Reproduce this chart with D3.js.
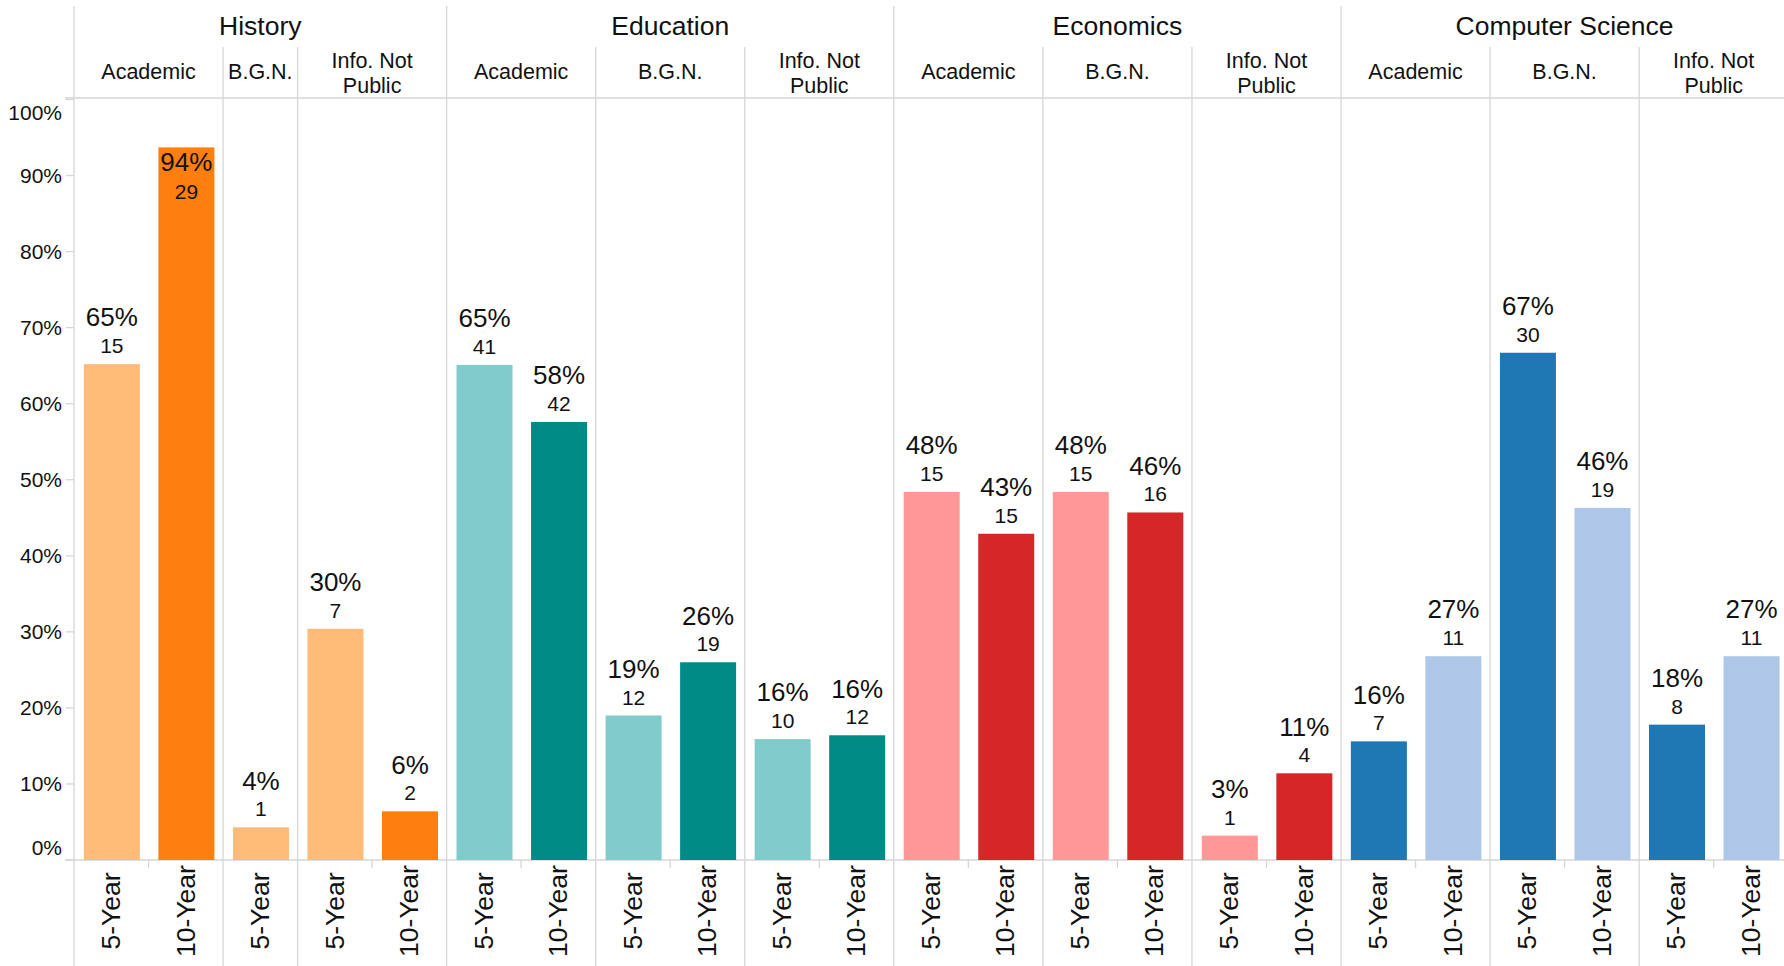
<!DOCTYPE html>
<html>
<head>
<meta charset="utf-8">
<script src="https://cdn.jsdelivr.net/npm/d3@7"></script>
<style>
  html, body { margin: 0; padding: 0; background: #fff; }
  svg { display: block; font-family: "Liberation Sans", Arial, sans-serif; }
</style>
</head>
<body>
<svg id="chart" width="1784" height="966"></svg>
<script>
// ---------------- DATA ----------------
const categories = ["History", "Education", "Economics", "Computer Science"];
const subgroups = ["Academic", "B.G.N.", "Info. Not Public"];
const years = ["5-Year", "10-Year"];
const yTicks = [0, 0.1, 0.2, 0.3, 0.4, 0.5, 0.6, 0.7, 0.8, 0.9, 1.0];

// percentages per subgroup: [5-Year, 10-Year] (History B.G.N. only has 5-Year)
const pctHistory   = [[65.2, 93.7], [4.3], [30.4, 6.4]];
const pctEducation = [[65.1, 57.6], [19.0, 26.0], [15.9, 16.4]];
const pctEconomics = [[48.4, 42.9], [48.4, 45.7], [3.2, 11.4]];
const pctCompSci   = [[15.6, 26.8], [66.7, 46.3], [17.8, 26.8]];

const cntHistory   = [[15, 29], [1], [7, 2]];
const cntEducation = [[41, 42], [12, 19], [10, 12]];
const cntEconomics = [[15, 15], [15, 16], [1, 4]];
const cntCompSci   = [[7, 11], [30, 19], [8, 11]];

const colorHistory   = ["#ffbb78", "#ff7f0e"];
const colorEducation = ["#82cbcc", "#008b87"];
const colorEconomics = ["#ff9896", "#d62728"];
const colorCompSci   = ["#1f77b4", "#aec7e8"];

const pctByCat = [pctHistory, pctEducation, pctEconomics, pctCompSci];
const cntByCat = [cntHistory, cntEducation, cntEconomics, cntCompSci];
const colByCat = [colorHistory, colorEducation, colorEconomics, colorCompSci];

// ---------------- BUILD ----------------
const bars = [];
categories.forEach((cat, ci) => {
  subgroups.forEach((sub, si) => {
    pctByCat[ci][si].forEach((p, yi) => {
      bars.push({
        cat, sub, year: years[yi],
        key: cat + "|" + sub + "|" + years[yi],
        pct: p / 100, pctLabel: Math.round(p) + "%", count: cntByCat[ci][si][yi],
        color: colByCat[ci][yi]
      });
    });
  });
});

const W = 1784, H = 966;
const left = 74, slotW = 74.53;
const right = left + bars.length * slotW;
const gridColor = "#d6d6d6";
const textColor = "#111";

const x = d3.scaleBand().domain(bars.map(d => d.key)).range([left, right]).padding(0);
const y = d3.scaleLinear().domain([0, 1]).range([860, 99.5]);

const svg = d3.select("#chart");

function span(filterFn) {
  const ks = bars.filter(filterFn).map(d => d.key);
  const x0 = x(ks[0]), x1 = x(ks[ks.length - 1]) + x.bandwidth();
  return [x0, x1];
}
const catSpans = categories.map(c => ({ name: c, s: span(d => d.cat === c) }));
const subSpans = [];
categories.forEach(c => subgroups.forEach(sg => {
  subSpans.push({ cat: c, name: sg, s: span(d => d.cat === c && d.sub === sg) });
}));

const grid = svg.append("g").attr("stroke", gridColor).attr("stroke-width", 1.3);

grid.append("line").attr("x1", 65).attr("x2", W).attr("y1", 98).attr("y2", 98);
grid.append("line").attr("x1", 65).attr("x2", W).attr("y1", y(0)).attr("y2", y(0));

const catEdges = [left].concat(catSpans.map(c => c.s[1]));
grid.selectAll("line.cat").data(catEdges).enter().append("line")
  .attr("class", "cat")
  .attr("x1", d => d).attr("x2", d => d).attr("y1", 6).attr("y2", H);

const subEdges = subSpans.filter(s => subgroups.indexOf(s.name) > 0).map(s => s.s[0]);
grid.selectAll("line.sub").data(subEdges).enter().append("line")
  .attr("class", "sub")
  .attr("x1", d => d).attr("x2", d => d).attr("y1", 47).attr("y2", H);

const midTicks = bars.filter(d => d.year === "10-Year").map(d => x(d.key));
grid.selectAll("line.mt").data(midTicks).enter().append("line")
  .attr("class", "mt")
  .attr("x1", d => d).attr("x2", d => d).attr("y1", y(0)).attr("y2", y(0) + 8);

grid.selectAll("line.yt").data(yTicks).enter().append("line")
  .attr("class", "yt")
  .attr("x1", 66).attr("x2", left).attr("y1", d => y(d)).attr("y2", d => y(d));

svg.append("g").selectAll("text").data(yTicks).enter().append("text")
  .attr("x", 62)
  .attr("y", d => d === 0 ? y(d) - 12 : (d === 1 ? y(d) + 13.5 : y(d)))
  .attr("dy", "0.35em")
  .attr("text-anchor", "end")
  .attr("font-size", 21)
  .attr("fill", textColor)
  .text(d => d3.format(".0%")(d));

svg.append("g").selectAll("text").data(catSpans).enter().append("text")
  .attr("x", d => (d.s[0] + d.s[1]) / 2)
  .attr("y", 35)
  .attr("text-anchor", "middle")
  .attr("font-size", 26.5)
  .attr("fill", textColor)
  .text(d => d.name);

const subG = svg.append("g");
subSpans.forEach(s => {
  const cx = (s.s[0] + s.s[1]) / 2;
  const t = subG.append("text")
    .attr("text-anchor", "middle")
    .attr("font-size", 21.5)
    .attr("fill", textColor);
  if (s.name === "Info. Not Public") {
    t.append("tspan").attr("x", cx).attr("y", 67.7).text("Info. Not");
    t.append("tspan").attr("x", cx).attr("y", 93.3).text("Public");
  } else {
    t.attr("x", cx).attr("y", 79.3).text(s.name);
  }
});

const barW = 56;
const barX = d => x(d.key) + (x.bandwidth() - barW) / 2 + 0.6;
svg.append("g").selectAll("rect").data(bars).enter().append("rect")
  .attr("x", barX)
  .attr("width", barW)
  .attr("y", d => y(d.pct))
  .attr("height", d => y(0) - y(d.pct))
  .attr("fill", d => d.color);

const lab = svg.append("g").attr("text-anchor", "middle").attr("fill", textColor);
bars.forEach(d => {
  const cx = barX(d) + barW / 2;
  const top = y(d.pct);
  let countBase = top - 11;
  let pctBase = countBase - 26.7;
  if (pctBase - 19 < y(1)) {
    pctBase = top + 23.4;
    countBase = pctBase + 27.7;
  }
  lab.append("text").attr("x", cx).attr("y", pctBase).attr("font-size", 26)
    .text(d.pctLabel);
  lab.append("text").attr("x", cx).attr("y", countBase).attr("font-size", 21)
    .text(d.count);
});

svg.append("g").selectAll("text").data(bars).enter().append("text")
  .attr("transform", d => `translate(${x(d.key) + x.bandwidth() / 2 - 0.5},911) rotate(-90)`)
  .attr("text-anchor", "middle")
  .attr("dy", "0.35em")
  .attr("font-size", 26.5)
  .attr("fill", textColor)
  .text(d => d.year);
</script>
</body>
</html>
